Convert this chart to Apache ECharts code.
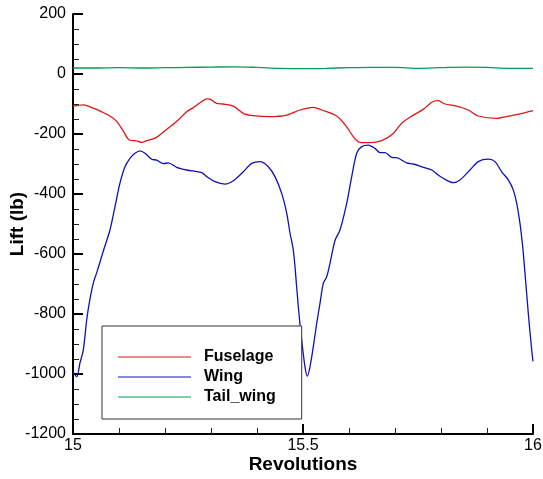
<!DOCTYPE html>
<html>
<head>
<meta charset="utf-8">
<script src="https://cdn.jsdelivr.net/npm/echarts@6/dist/echarts.min.js"></script>
<style>
  html, body { margin: 0; padding: 0; background: #ffffff; }
  #chart { width: 543px; height: 479px; }
</style>
</head>
<body>
<div id="chart"></div>
<script>
// Lift components over one revolution (15 → 16)
const wingRev = [15.0000, 15.0080, 15.0152, 15.0224, 15.0298, 15.0354, 15.0441, 15.0515, 15.0659, 15.0804,
  15.0913, 15.1022, 15.1130, 15.1239, 15.1348, 15.1457, 15.1565, 15.1711, 15.1820, 15.1963,
  15.2072, 15.2254, 15.2472, 15.2798, 15.2907, 15.3087, 15.3304, 15.3485, 15.3702, 15.3885,
  15.4065, 15.4246, 15.4391, 15.4537, 15.4646, 15.4717, 15.4783, 15.4826, 15.4898, 15.4972,
  15.5043, 15.5093, 15.5152, 15.5224, 15.5298, 15.5370, 15.5441, 15.5515, 15.5587, 15.5696,
  15.5804, 15.5950, 15.6059, 15.6167, 15.6276, 15.6420, 15.6565, 15.6674, 15.6783, 15.6928,
  15.7037, 15.7254, 15.7398, 15.7615, 15.7798, 15.7907, 15.8087, 15.8267, 15.8413, 15.8630,
  15.8811, 15.9028, 15.9174, 15.9320, 15.9463, 15.9572, 15.9646, 15.9717, 15.9776, 15.9826,
  15.9898, 15.9972, 16.0000];
const wingLift = [-992, -1009, -963, -920, -820, -763, -697, -663, -590, -520,
  -442, -363, -309, -281, -264, -256, -264, -284, -287, -299,
  -296, -311, -320, -329, -342, -359, -367, -356, -326, -298,
  -292, -309, -342, -398, -464, -530, -580, -642, -776, -887,
  -976, -1007, -976, -909, -831, -764, -698, -676, -631, -555,
  -520, -431, -342, -264, -242, -237, -248, -262, -262, -278,
  -279, -296, -300, -311, -320, -333, -351, -362, -353, -320,
  -292, -284, -292, -326, -353, -387, -431, -498, -576, -664,
  -798, -920, -958];

const fuselageRev = [15.0000, 15.0224, 15.0441, 15.0624, 15.0804, 15.0950, 15.1093, 15.1224, 15.1385, 15.1493,
  15.1602, 15.1783, 15.1928, 15.2109, 15.2289, 15.2472, 15.2615, 15.2761, 15.2907, 15.2978,
  15.3124, 15.3267, 15.3485, 15.3702, 15.3920, 15.4283, 15.4646, 15.4935, 15.5224, 15.5407,
  15.5733, 15.5950, 15.6093, 15.6239, 15.6457, 15.6711, 15.6963, 15.7146, 15.7398, 15.7615,
  15.7798, 15.7941, 15.8087, 15.8341, 15.8593, 15.8811, 15.9211, 15.9428, 15.9717, 16.0000];
const fuselageLift = [-108, -103, -114, -126, -140, -158, -190, -220, -223, -228,
  -222, -214, -198, -176, -153, -126, -112, -96, -83, -84,
  -98, -100, -107, -131, -139, -142, -137, -120, -111, -120,
  -140, -176, -209, -228, -229, -222, -198, -164, -137, -118,
  -94, -89, -100, -107, -120, -140, -148, -142, -133, -122];

const tailRev = [15.00, 15.05, 15.10, 15.15, 15.20, 15.25, 15.30, 15.35, 15.40, 15.45, 15.50,
  15.55, 15.60, 15.65, 15.70, 15.75, 15.80, 15.85, 15.90, 15.95, 16.00];
const tailLift = [20, 20, 21, 20, 21, 22, 23, 24, 22, 19, 18,
  19, 21, 22, 22, 19, 21, 23, 22, 19, 19];

const seriesNames = ['Fuselage', 'Wing', 'Tail_wing'];
const seriesColors = ['#e01414', '#1010b8', '#00a050'];

const pairs = (xs, ys) => xs.map((x, i) => [x, ys[i]]);

const chart = echarts.init(document.getElementById('chart'));

const axisFont = 'Liberation Sans, Arial, Helvetica, sans-serif';

chart.setOption({
  animation: false,
  backgroundColor: '#ffffff',
  grid: { left: 73, right: 10, top: 14, bottom: 45, containLabel: false, outerBoundsMode: 'none' },
  xAxis: {
    type: 'value',
    min: 15, max: 16, interval: 0.5,
    name: 'Revolutions',
    nameLocation: 'middle',
    nameGap: 21,
    nameMoveOverlap: false,
    nameTextStyle: { fontFamily: axisFont, fontWeight: 'bold', fontSize: 19, color: '#000' },
    axisLine: { show: true, onZero: false, lineStyle: { color: '#000', width: 2 } },
    axisTick: { show: true, inside: true, length: 10, lineStyle: { color: '#000', width: 2 } },
    minorTick: { show: true, splitNumber: 5, length: 6, lineStyle: { color: '#222', width: 1 } },
    axisLabel: { fontFamily: axisFont, fontSize: 16, color: '#000', margin: 4, formatter: v => String(v) },
    splitLine: { show: false }
  },
  yAxis: {
    type: 'value',
    min: -1200, max: 200, interval: 200,
    name: 'Lift (lb)',
    nameLocation: 'middle',
    nameRotate: 90,
    nameGap: 46,
    nameMoveOverlap: false,
    nameTextStyle: { fontFamily: axisFont, fontWeight: 'bold', fontSize: 19, color: '#000' },
    axisLine: { show: true, onZero: false, lineStyle: { color: '#000', width: 2 } },
    axisTick: { show: true, inside: true, length: 10, lineStyle: { color: '#000', width: 2 } },
    minorTick: { show: true, splitNumber: 4, length: 6, lineStyle: { color: '#222', width: 1 } },
    axisLabel: { fontFamily: axisFont, fontSize: 16, color: '#000', margin: 7, formatter: v => String(v) },
    splitLine: { show: false }
  },
  legend: {
    orient: 'vertical',
    left: 102,
    top: 326,
    data: seriesNames,
    backgroundColor: '#ffffff',
    borderColor: '#333',
    borderWidth: 1,
    padding: [23, 26, 14, 16],
    itemWidth: 73,
    itemHeight: 16,
    itemGap: 4,
    icon: 'path://M0,0 L73,0 L73,1 L0,1 Z',
    textStyle: {
      fontFamily: axisFont, fontWeight: 'bold', fontSize: 16, color: '#000',
      lineHeight: 16, padding: [0, 0, 0, 8]
    }
  },
  series: [
    {
      name: seriesNames[0], type: 'line', data: pairs(fuselageRev, fuselageLift),
      symbol: 'none', smooth: 0.3, color: seriesColors[0],
      lineStyle: { width: 1.3, color: seriesColors[0] }, z: 3
    },
    {
      name: seriesNames[1], type: 'line', data: pairs(wingRev, wingLift),
      symbol: 'none', smooth: 0.3, color: seriesColors[1],
      lineStyle: { width: 1.3, color: seriesColors[1] }, z: 2
    },
    {
      name: seriesNames[2], type: 'line', data: pairs(tailRev, tailLift),
      symbol: 'none', smooth: 0.3, color: seriesColors[2],
      lineStyle: { width: 1.3, color: seriesColors[2] }, z: 1
    }
  ]
});
</script>
</body>
</html>
